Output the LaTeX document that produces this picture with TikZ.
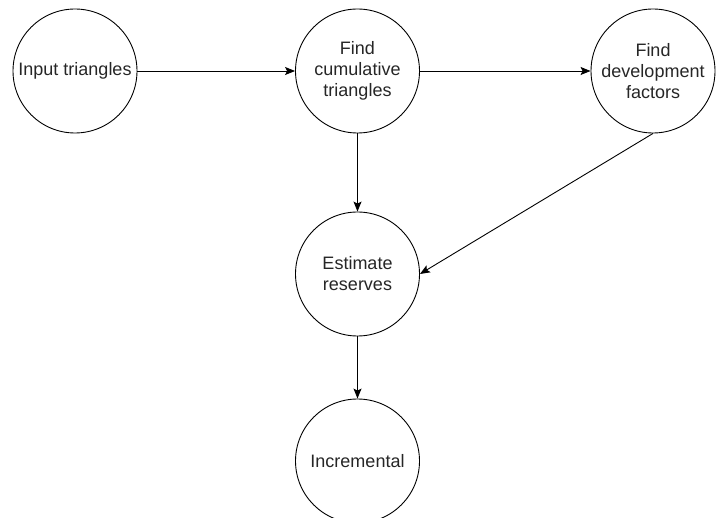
\documentclass[tikz,border=0pt]{standalone}
\usepackage{fontspec}
\setmainfont{Liberation Sans}
\usetikzlibrary{arrows.meta}
\begin{document}
\begin{tikzpicture}[x=1pt,y=-1pt,
  stage/.style={circle,draw=black,line width=0.9pt,minimum size=124pt,inner sep=0pt,
    align=center,text=black!85,font=\fontsize{18}{21}\selectfont},
  flow/.style={draw=black,line width=0.9pt,-{Stealth[length=10pt,width=8pt,inset=2pt]}}]
  \useasboundingbox (0,0) rectangle (722,518);
  \node[stage] (input) at (75,71) {Input triangles};
  \node[stage] (cum) at (357.5,71) {Find\\cumulative\\triangles};
  \node[stage] (dev) at (653,71) {Find\\development\\factors};
  \node[stage] (est) at (357.5,274) {Estimate\\reserves};
  \node[stage] (inc) at (357.5,461) {Incremental};
  \draw[flow] (input) -- (cum);
  \draw[flow] (cum) -- (dev);
  \draw[flow] (cum) -- (est);
  \draw[flow] (dev.south) -- (est.east);
  \draw[flow] (est) -- (inc);
\end{tikzpicture}
\end{document}
